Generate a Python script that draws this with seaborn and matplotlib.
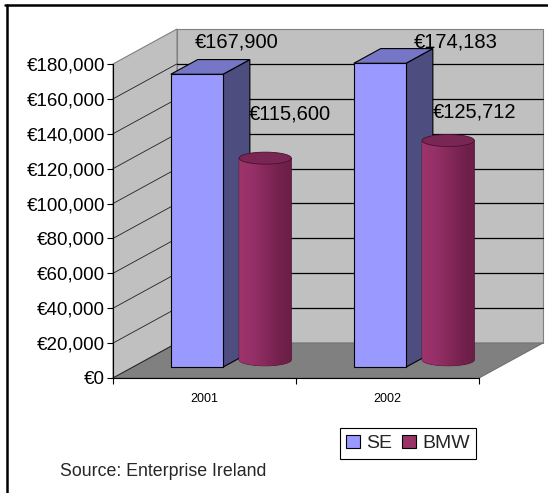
import numpy as np
import pandas as pd
import matplotlib
matplotlib.use("Agg")
import matplotlib.pyplot as plt
import matplotlib.transforms as mtransforms
from matplotlib.patches import Polygon
from matplotlib.lines import Line2D
import seaborn as sns

# ---------------- data ----------------
years = ["2001", "2002"]
regions = ["SE", "BMW"]
se_values = [167900, 174183]
bmw_values = [115600, 125712]
y_ticks = list(range(0, 180001, 20000))
source_text = "Source: Enterprise Ireland"

df = pd.DataFrame({
    "Year": years * 2,
    "Region": ["SE"] * len(years) + ["BMW"] * len(years),
    "Value": se_values + bmw_values,
})

# ---------------- style ----------------
sns.set_theme(style="ticks")
plt.rcParams['font.family'] = ['Liberation Sans', 'DejaVu Sans']

W, H, DPI = 548, 493, 100
fig = plt.figure(figsize=(W / DPI, H / DPI), dpi=DPI)
fig.patch.set_facecolor("white")

# front plane of the pseudo-3D plot (pixels, from top-left)
XL, XR, YB, YT = 113, 479, 378, 64
ax = fig.add_axes([XL / W, (H - YB) / H, (XR - XL) / W, (YB - YT) / H])
ax.patch.set_visible(False)

palette = {"SE": "#9999FF", "BMW": "#993366"}
sns.barplot(data=df, x="Year", y="Value", hue="Region", hue_order=regions,
            palette=palette, saturation=1, width=0.6, gap=0.05,
            edgecolor="black", linewidth=0.8, ax=ax)

YMAX = y_ticks[-1]
ax.set_xlim(-0.5, 1.5)
ax.set_ylim(0, YMAX)
ax.set_xlabel("")
ax.set_ylabel("")

DX, DY = 64, 35   # depth vector in pixels


def P(x, y, d, ex=0.0, ey=0.0):
    px, py = ax.transData.transform((x, y))
    return ax.transData.inverted().transform((px + d * DX + ex, py + d * DY + ey))


def D(x, y, d):
    px, py = ax.transData.transform((x, y))
    return np.array([px + d * DX, py + d * DY])


def inv(pts):
    return ax.transData.inverted().transform(np.asarray(pts))


x0w, x1w = -0.5, 1.5
# walls and floor
back = Polygon([P(x0w, 0, 1), P(x1w, 0, 1), P(x1w, YMAX, 1), P(x0w, YMAX, 1)],
               closed=True, facecolor="#C0C0C0", edgecolor="#808080", lw=0.8,
               zorder=0.5, clip_on=False)
side = Polygon([P(x0w, 0, 0), P(x0w, 0, 1), P(x0w, YMAX, 1), P(x0w, YMAX, 0)],
               closed=True, facecolor="#C0C0C0", edgecolor="#808080", lw=0.8,
               zorder=0.5, clip_on=False)
floor = Polygon([P(x0w, 0, 0), P(x1w, 0, 0), P(x1w, 0, 1), P(x0w, 0, 1)],
                closed=True, facecolor="#808080", edgecolor="#707070", lw=0.8,
                zorder=0.6, clip_on=False)
for p in (back, side, floor):
    ax.add_patch(p)

# gridlines on back wall and side wall
for t in y_ticks:
    if 0 < t < YMAX:
        a, b = P(x0w, t, 1), P(x1w, t, 1)
        ax.add_line(Line2D([a[0], b[0]], [a[1], b[1]], color="black", lw=0.9,
                           zorder=0.8, clip_on=False))
    if t < YMAX:
        a, b = P(x0w, t, 0), P(x0w, t, 1)
        ax.add_line(Line2D([a[0], b[0]], [a[1], b[1]], color="#202020", lw=0.6,
                           zorder=0.8, clip_on=False))

# ---------------- 3D bars ----------------
d0 = 0.31          # front face depth of boxes
d1 = d0 + 0.42     # back face depth of boxes
dc = (d0 + d1) / 2 # cylinder axis depth
cap_b = 6.0        # cylinder ellipse half-height (px)

se_bars = list(ax.containers[0])
bmw_bars = list(ax.containers[1])

for i, p in enumerate(se_bars):
    z = 3 + 2 * i
    x0 = p.get_x(); w = p.get_width(); h = p.get_height(); x1 = x0 + w
    off = mtransforms.ScaledTranslation(d0 * DX / DPI, d0 * DY / DPI, fig.dpi_scale_trans)
    p.set_transform(ax.transData + off)
    p.set_zorder(z + 0.2)
    p.set_clip_on(False)
    sidef = Polygon([P(x1, 0, d0), P(x1, 0, d1), P(x1, h, d1), P(x1, h, d0)],
                    closed=True, facecolor="#4D4D80", edgecolor="black", lw=0.8,
                    zorder=z, clip_on=False)
    topf = Polygon([P(x0, h, d0), P(x1, h, d0), P(x1, h, d1), P(x0, h, d1)],
                   closed=True, facecolor="#7676C6", edgecolor="black", lw=0.8,
                   zorder=z + 0.1, clip_on=False)
    ax.add_patch(sidef)
    ax.add_patch(topf)

grad = np.linspace(0, 1, 256).reshape(1, -1)
cmap = matplotlib.colors.LinearSegmentedColormap.from_list(
    "cyl", ["#9E3569", "#96306A", "#86295A", "#74224D", "#6A1E46"])

for i, p in enumerate(bmw_bars):
    z = 4 + 2 * i
    x0 = p.get_x(); w = p.get_width(); h = p.get_height(); x1 = x0 + w
    p.set_visible(False)
    lb, rb = D(x0, 0, dc), D(x1, 0, dc)
    lt, rt = D(x0, h, dc), D(x1, h, dc)
    cx = (lb[0] + rb[0]) / 2
    a = (rb[0] - lb[0]) / 2
    t = np.linspace(np.pi, 2 * np.pi, 60)
    arc = np.column_stack([cx + a * np.cos(t), lb[1] + cap_b * np.sin(t)])
    body_pts = np.vstack([lt, lb, arc, rb, rt])
    body_d = inv(body_pts)
    body = Polygon(body_d, closed=True, facecolor="#8A2B5C", edgecolor="#4A1030",
                   lw=0.6, zorder=z, clip_on=False)
    ax.add_patch(body)
    ext = inv([[lb[0], lb[1] - cap_b], [rt[0], rt[1] + cap_b]])
    im = ax.imshow(grad, cmap=cmap, aspect="auto", zorder=z + 0.05,
                   extent=[ext[0][0], ext[1][0], ext[0][1], ext[1][1]],
                   interpolation="bilinear")
    im.set_clip_path(body)
    tt = np.linspace(0, 2 * np.pi, 90)
    cap = np.column_stack([cx + a * np.cos(tt), lt[1] + cap_b * np.sin(tt)])
    capp = Polygon(inv(cap), closed=True, facecolor="#7A2655", edgecolor="#4A1030",
                   lw=0.6, zorder=z + 0.1, clip_on=False)
    ax.add_patch(capp)

ax.set_xlim(-0.5, 1.5)
ax.set_ylim(0, YMAX)

# ---------------- value labels ----------------
label_offsets = {"SE": [(60, 43), (96, 32)], "BMW": [(58, 62), (60, 47)]}
for region, bars, vals in (("SE", se_bars, se_values), ("BMW", bmw_bars, bmw_values)):
    for j, (p, v) in enumerate(zip(bars, vals)):
        xc = p.get_x() + p.get_width() / 2
        ax.annotate(f"€{v:,}", xy=(xc, v), xytext=label_offsets[region][j],
                    textcoords="offset pixels", ha="center", va="center",
                    fontsize=14.5, color="black", zorder=20, annotation_clip=False)

# ---------------- axes ----------------
ax.set_yticks(y_ticks, labels=[f"€{v:,}" for v in y_ticks])
ax.set_xticks([-0.5, 0.5, 1.5], labels=["", "", ""])
ax.set_xticks([0, 1], labels=years, minor=True)
ax.tick_params(axis="y", which="major", length=4.3, width=0.8, pad=1.5,
               labelsize=13.5, colors="black", left=True)
ax.tick_params(axis="x", which="major", length=4.3, width=0.8, colors="black", bottom=True)
ax.tick_params(axis="x", which="minor", length=0, pad=11, labelsize=9, labelcolor="black")
for s in ("top", "right"):
    ax.spines[s].set_visible(False)
for s in ("left", "bottom"):
    ax.spines[s].set_color("black")
    ax.spines[s].set_linewidth(0.8)
    ax.spines[s].set_zorder(10)

# ---------------- legend ----------------
sns.move_legend(ax, "center", bbox_to_anchor=(408 / W, (H - 443.5) / H),
                bbox_transform=fig.transFigure, ncol=2, title=None, frameon=True,
                fontsize=14, handlelength=0.72, handleheight=0.7,
                handletextpad=0.3, columnspacing=0.5, borderpad=0.35,
                fancybox=False, framealpha=1)
leg = ax.get_legend()
leg.get_frame().set_edgecolor("black")
leg.get_frame().set_linewidth(0.8)
for hnd in leg.legend_handles:
    hnd.set_edgecolor("black")
    hnd.set_linewidth(0.8)

# ---------------- source & border ----------------
fig.text(60 / W, (H - 472) / H, source_text, ha="left", va="center", fontsize=12.8)
fig.add_artist(Line2D([5 / W, 1], [1 - 5 / H, 1 - 5 / H], transform=fig.transFigure,
                      color="black", lw=1.8))
fig.add_artist(Line2D([6.5 / W, 6.5 / W], [0, 1 - 5 / H], transform=fig.transFigure,
                      color="black", lw=1.8))

fig.savefig("out.png", dpi=DPI)
